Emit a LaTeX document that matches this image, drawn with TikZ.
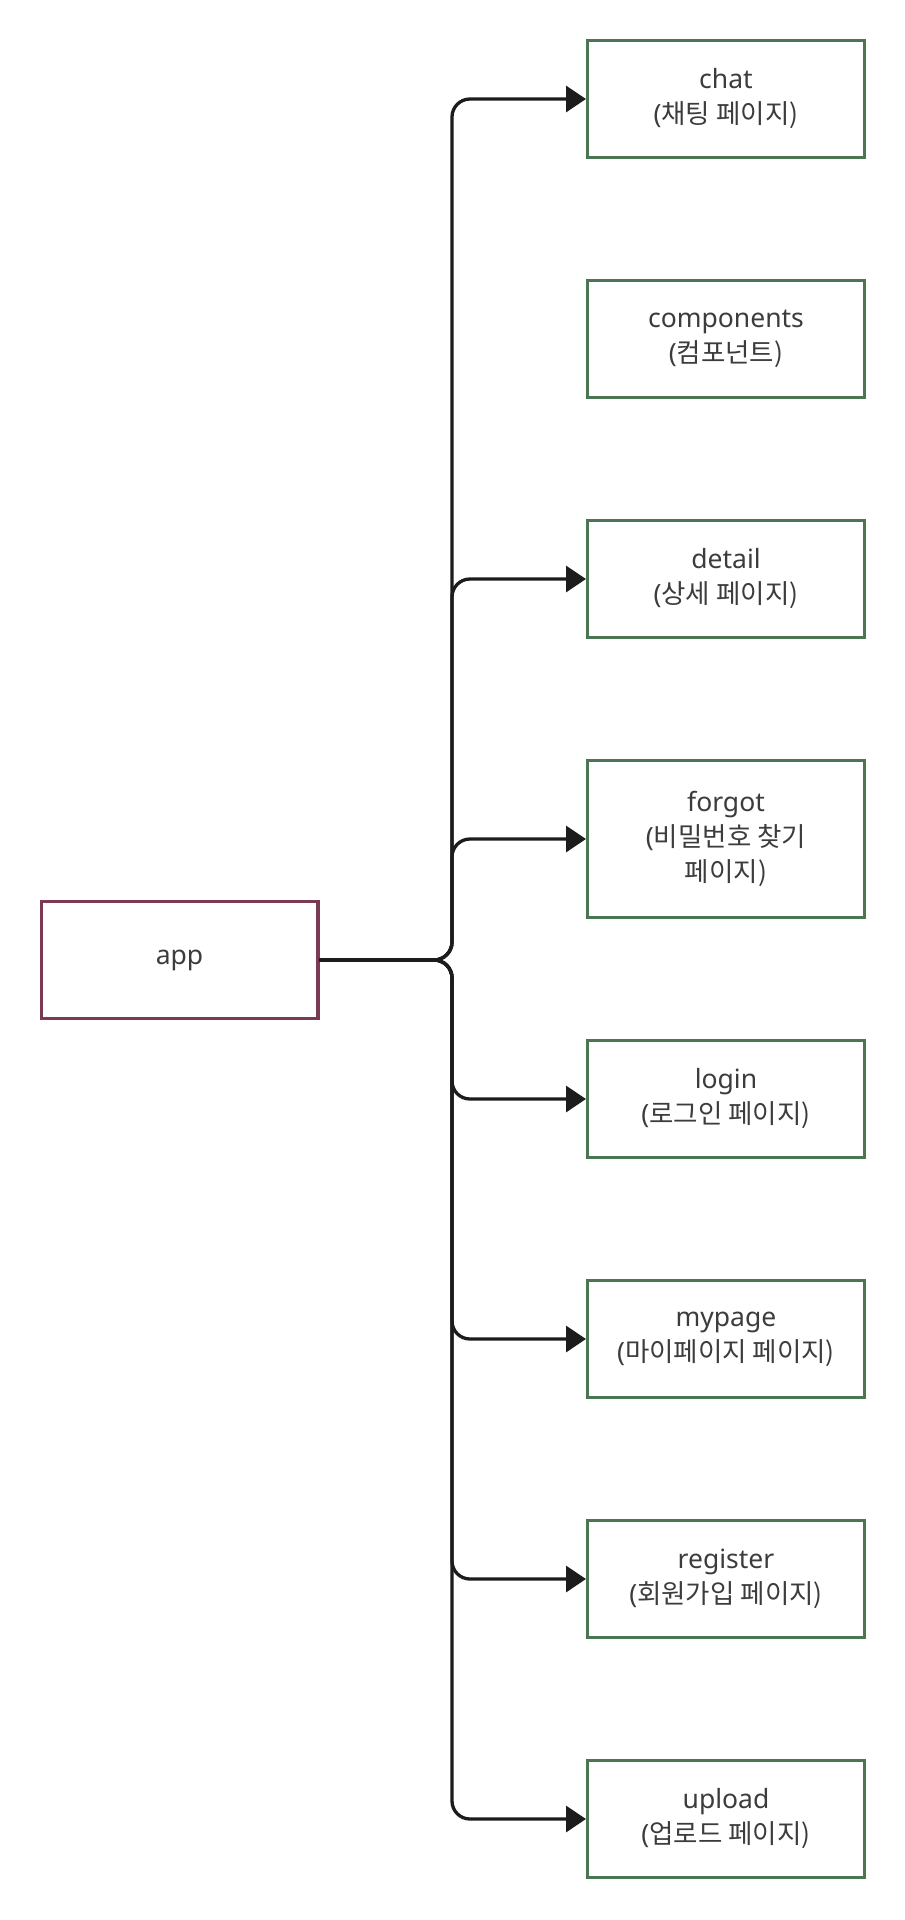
\documentclass[tikz,border=0pt]{standalone}
\usepackage{fontspec}
\usepackage{tikz}
\usepackage{xcolor}
\setmainfont{Noto Sans}
\newfontfamily\kr{Noto Sans CJK KR}
\usetikzlibrary{arrows.meta,positioning}
\definecolor{leafgreen}{HTML}{4A7751}
\definecolor{rootred}{HTML}{7B3A53}
\definecolor{textgray}{HTML}{3C3C3C}
\definecolor{linkblack}{HTML}{1C1C1C}

\begin{document}
\begin{tikzpicture}[x=1pt,y=-1pt,
  box/.style={draw,line width=3.4pt,minimum width=276.6pt,minimum height=116.6pt,inner sep=0pt,align=center,text=textgray,font=\fontsize{26.5}{35}\selectfont},
  leaf/.style={box,draw=leafgreen},
  root/.style={box,draw=rootred},
  link/.style={draw=linkblack,line width=3.3pt,rounded corners=18pt,-{Triangle[length=20pt,width=26pt]}}]
\useasboundingbox (0,0) rectangle (905,1920);
% root and folders
\node[root] (app) at (179.5,960) {app};
\node[leaf] (chat) at (726,99) {chat\\(\kr 채팅 페이지)};
\node[leaf] (components) at (726,339) {components\\(\kr 컴포넌트)};
\node[leaf] (detail) at (726,579) {detail\\(\kr 상세 페이지)};
\node[leaf,minimum height=156.6pt] (forgot) at (726,839) {forgot\\(\kr 비밀번호 찾기\\\kr 페이지)};
\node[leaf] (login) at (726,1099) {login\\(\kr 로그인 페이지)};
\node[leaf] (mypage) at (726,1339) {mypage\\(\kr 마이페이지 페이지)};
\node[leaf] (register) at (726,1579) {register\\(\kr 회원가입 페이지)};
\node[leaf] (upload) at (726,1819) {upload\\(\kr 업로드 페이지)};
\coordinate (trunk) at (452,960);
% links
\foreach \page in {chat,detail,forgot,login,mypage,register,upload}
  \draw[link] (app.east) -- (trunk) -- (trunk |- \page) -- (\page.west);
\end{tikzpicture}
\end{document}
